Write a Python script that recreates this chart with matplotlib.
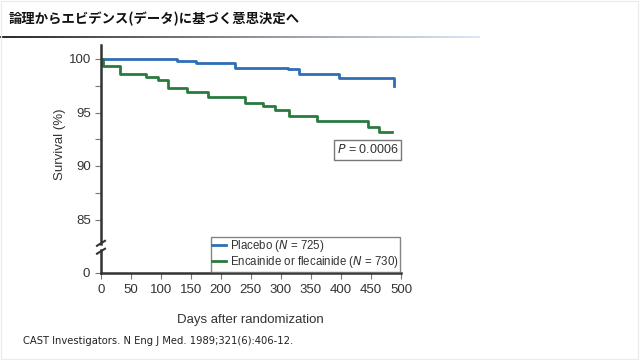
import numpy as np
import matplotlib.pyplot as plt
from matplotlib.lines import Line2D
from matplotlib.colors import LinearSegmentedColormap

# Kaplan-Meier step data
placebo_days = [0, 127, 158, 223, 312, 330, 397, 488, 488]
placebo_surv = [100.0, 99.84, 99.6, 99.2, 99.05, 98.6, 98.25, 98.25, 97.45]
drug_days = [0, 4, 32, 76, 96, 112, 143, 179, 240, 270, 290, 314, 360, 445, 464, 485]
drug_surv = [100.0, 99.35, 98.63, 98.32, 98.04, 97.26, 96.9, 96.48, 95.86, 95.6,
             95.23, 94.67, 94.24, 93.6, 93.2, 93.2]
xticks = np.arange(0, 501, 50)
yticks_major = [85, 90, 95, 100]
yticks_minor = [87.5, 92.5, 97.5]
legend_labels = ['Placebo ($N$ = 725)', 'Encainide or flecainide ($N$ = 730)']
title = '論理からエビデンス(データ)に基づく意思決定へ'
source = 'CAST Investigators. N Eng J Med. 1989;321(6):406-12.'

blue = '#2f6db5'
green = '#2b7a3d'
axc = '#333333'

plt.rcParams['font.family'] = ['Liberation Sans', 'DejaVu Sans']
fig = plt.figure(figsize=(6.4, 3.6), dpi=100)

# slide frame + title
fig.patches.append(plt.Rectangle((0.001, 0.003), 0.996, 0.994, transform=fig.transFigure,
                                 fill=False, ec='#ececec', lw=1))
fig.text(0.013, 0.948, title, fontsize=9.6, fontweight='bold', va='center',
         family=['Noto Sans CJK JP', 'DejaVu Sans'], color='#111111')
gax = fig.add_axes([0, 1 - 38.5 / 360, 0.75, 2.5 / 360])
gcm = LinearSegmentedColormap.from_list('g', ['#2a2a2a', '#8a8f96', '#dce8f6'])
gax.imshow(np.linspace(0, 1, 256)[None, :], cmap=gcm, aspect='auto')
gax.axis('off')

left, width = 100.7 / 640, 300.3 / 640
ax = fig.add_axes([left, 1 - 244 / 360, width, (244 - 45) / 360])
ax2 = fig.add_axes([left, 1 - 272.7 / 360, width, (272.7 - 250) / 360])

ax.step(placebo_days, placebo_surv, where='post', color=blue, lw=2)
ax.step(drug_days, drug_surv, where='post', color=green, lw=2)
ax.set_xlim(0, 500)
ax.set_ylim(100 - (244 - 59) / 10.7, 100 + (59 - 45) / 10.7)
ax.set_yticks(yticks_major)
ax.set_yticks(yticks_minor, minor=True)
ax.set_xticks([])
for s in ['top', 'right', 'bottom']:
    ax.spines[s].set_visible(False)
ax.spines['left'].set_linewidth(1.8)
ax.spines['left'].set_color(axc)
ax.tick_params(axis='y', which='major', length=4, width=0.8, color='#777777', labelsize=9.5, labelcolor=axc, pad=3)
ax.tick_params(axis='y', which='minor', length=4, width=0.8, color='#777777')
ax.set_ylabel('Survival (%)', fontsize=9.5, color=axc)
ax.yaxis.set_label_coords(-0.115, 0.5)
ax.text(444, 91.5, '$P$ = 0.0006', fontsize=9, color=axc, ha='center', va='center',
        bbox=dict(boxstyle='square,pad=0.25', fc='white', ec='#777777', lw=1))

ax2.set_xlim(0, 500)
ax2.set_ylim(0, (272.7 - 250) / 10.7)
ax2.set_yticks([0])
ax2.set_xticks(xticks)
for s in ['top', 'right']:
    ax2.spines[s].set_visible(False)
for s in ['left', 'bottom']:
    ax2.spines[s].set_linewidth(1.8)
    ax2.spines[s].set_color(axc)
ax2.tick_params(axis='both', length=4, width=0.8, color='#777777', labelsize=9.5, labelcolor=axc, pad=4)
ax2.set_xlabel('Days after randomization', fontsize=9.5, color=axc, labelpad=13)

# break marks
for yb in [243.3, 251.2]:
    fig.add_artist(Line2D([97 / 640, 105 / 640], [1 - (yb + 2.5) / 360, 1 - (yb - 2.5) / 360],
                          color=axc, lw=1.5, transform=fig.transFigure))

handles = [Line2D([], [], color=blue, lw=2), Line2D([], [], color=green, lw=2)]
leg = fig.legend(handles, legend_labels, loc='upper left', bbox_to_anchor=(210.7 / 640, 1 - 236.7 / 360),
                 fontsize=8.3, frameon=True, fancybox=False, handlelength=1.2, handletextpad=0.35,
                 borderpad=0.12, labelspacing=0.02, borderaxespad=0)
leg.get_frame().set_edgecolor('#666666')
leg.get_frame().set_linewidth(1)
for t in leg.get_texts():
    t.set_color(axc)

fig.text(23 / 640, 1 - 340.7 / 360, source, fontsize=7.2, family='DejaVu Sans', va='center', color='#222222')

fig.savefig('out.png', dpi=100)
